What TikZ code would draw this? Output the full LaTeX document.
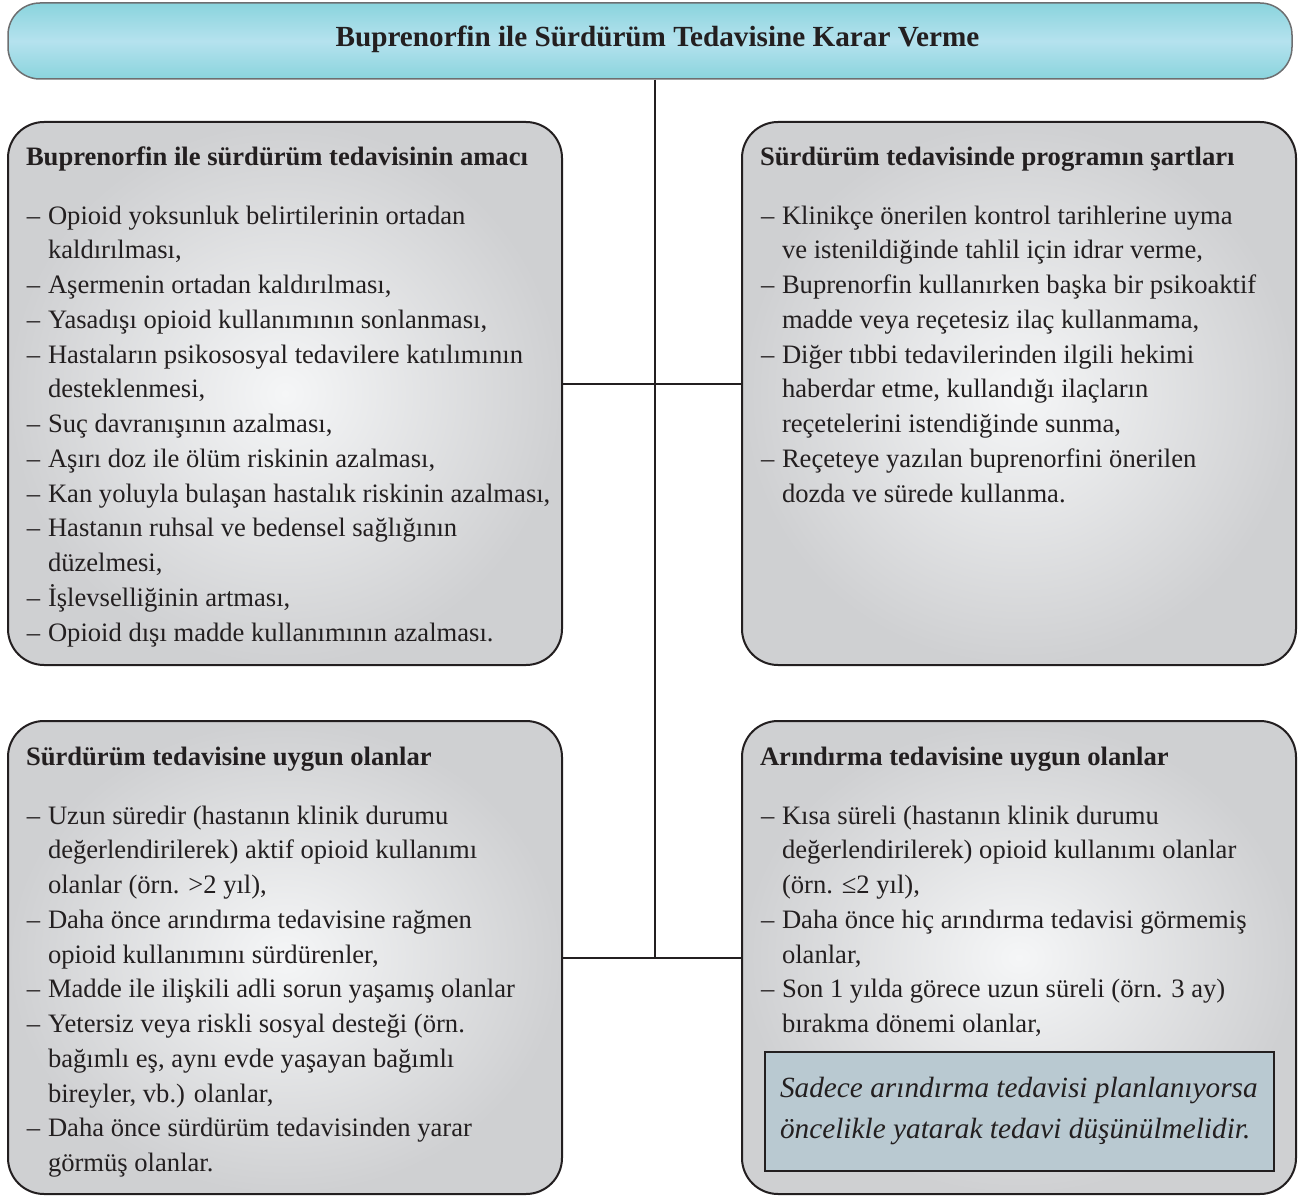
\documentclass[tikz,border=0pt]{standalone}
\usepackage{fontspec}
\setmainfont{Liberation Serif}
\definecolor{ink}{HTML}{231F20}
\definecolor{titleedge}{HTML}{8AD4DD}
\definecolor{titlemid}{HTML}{B5E2EE}
\definecolor{titleline}{HTML}{6D6E70}
\definecolor{panelin}{HTML}{F5F6F7}
\definecolor{panelout}{HTML}{CFD0D2}
\definecolor{notefill}{HTML}{B9C9D1}
\tikzset{
  titlebar/.style={draw=titleline, line width=1.5pt, rounded corners=32pt,
    top color=titleedge, bottom color=titleedge, middle color=titlemid, inner sep=0},
  panel/.style={draw=ink, line width=2pt, rounded corners=36pt,
    inner color=panelin, outer color=panelout, inner sep=0},
  notebox/.style={draw=ink, line width=1.6pt, fill=notefill, inner sep=0},
  conn/.style={draw=ink, line width=2.4pt},
  txt/.style={anchor=base west, inner sep=0, outer sep=0, text=ink,
    font=\fontsize{26.6}{32}\selectfont},
  head/.style={txt, font=\fontsize{26.6}{32}\selectfont\bfseries},
  notetxt/.style={txt, font=\fontsize{29.3}{36}\selectfont\itshape},
}
% bulleted line: name, dash x, first baseline, line index, text
\newcommand\Dline[5]{%
  \node[txt] (#1m) at (#2,{#3+34.75*#4}) {–};
  \node[txt] (#1) at (#2+21,{#3+34.75*#4}) {#5};}
% continuation line: name, dash x, first baseline, line index, text
\newcommand\Cline[5]{%
  \node[txt] (#1) at (#2+21,{#3+34.75*#4}) {#5};}
\begin{document}
\begin{tikzpicture}[x=1pt,y=-1pt]
\useasboundingbox (0,0) rectangle (1302,1196);

% title bar
\node[titlebar, minimum width=1284pt, minimum height=76pt] (title) at (650,41) {};
\node[anchor=base, inner sep=0, text=ink, font=\fontsize{29.2}{34}\selectfont\bfseries]
  (titletext) at (657.5,47) {Buprenorfin ile Sürdürüm Tedavisine Karar Verme};

% panels
\node[panel, minimum width=554pt, minimum height=543pt] (tl) at (285,393.5) {};
\node[panel, minimum width=554pt, minimum height=543pt] (tr) at (1019,393.5) {};
\node[panel, minimum width=554pt, minimum height=473pt] (bl) at (285,957.5) {};
\node[panel, minimum width=554pt, minimum height=473pt] (br) at (1019,957.5) {};

% connectors
\coordinate (jt) at (655,384);
\coordinate (jb) at (655,958);
\draw[conn] (jt |- title.south) -- (jb);
\draw[conn] (tl.east |- jt) -- (tr.west |- jt);
\draw[conn] (bl.east |- jb) -- (br.west |- jb);

% top left
\node[head] (tlh) at (26,166) {Buprenorfin ile sürdürüm tedavisinin amacı};
\Dline{tl0}{27}{224}{0}{Opioid yoksunluk belirtilerinin ortadan}
\Cline{tl1}{27}{224}{1}{kaldırılması,}
\Dline{tl2}{27}{224}{2}{Aşermenin ortadan kaldırılması,}
\Dline{tl3}{27}{224}{3}{Yasadışı opioid kullanımının sonlanması,}
\Dline{tl4}{27}{224}{4}{Hastaların psikososyal tedavilere katılımının}
\Cline{tl5}{27}{224}{5}{desteklenmesi,}
\Dline{tl6}{27}{224}{6}{Suç davranışının azalması,}
\Dline{tl7}{27}{224}{7}{Aşırı doz ile ölüm riskinin azalması,}
\Dline{tl8}{27}{224}{8}{Kan yoluyla bulaşan hastalık riskinin azalması,}
\Dline{tl9}{27}{224}{9}{Hastanın ruhsal ve bedensel sağlığının}
\Cline{tl10}{27}{224}{10}{düzelmesi,}
\Dline{tl11}{27}{224}{11}{İşlevselliğinin artması,}
\Dline{tl12}{27}{224}{12}{Opioid dışı madde kullanımının azalması.}

% top right
\node[head] (trh) at (760,166) {Sürdürüm tedavisinde programın şartları};
\Dline{tr0}{761}{224}{0}{Klinikçe önerilen kontrol tarihlerine uyma}
\Cline{tr1}{761}{224}{1}{ve istenildiğinde tahlil için idrar verme,}
\Dline{tr2}{761}{224}{2}{Buprenorfin kullanırken başka bir psikoaktif}
\Cline{tr3}{761}{224}{3}{madde veya reçetesiz ilaç kullanmama,}
\Dline{tr4}{761}{224}{4}{Diğer tıbbi tedavilerinden ilgili hekimi}
\Cline{tr5}{761}{224}{5}{haberdar etme, kullandığı ilaçların}
\Cline{tr6}{761}{224}{6}{reçetelerini istendiğinde sunma,}
\Dline{tr7}{761}{224}{7}{Reçeteye yazılan buprenorfini önerilen}
\Cline{tr8}{761}{224}{8}{dozda ve sürede kullanma.}

% bottom left
\node[head] (blh) at (26,765) {Sürdürüm tedavisine uygun olanlar};
\Dline{bl0}{27}{824}{0}{Uzun süredir (hastanın klinik durumu}
\Cline{bl1}{27}{824}{1}{değerlendirilerek) aktif opioid kullanımı}
\Cline{bl2}{27}{824}{2}{olanlar (örn. >2 yıl),}
\Dline{bl3}{27}{824}{3}{Daha önce arındırma tedavisine rağmen}
\Cline{bl4}{27}{824}{4}{opioid kullanımını sürdürenler,}
\Dline{bl5}{27}{824}{5}{Madde ile ilişkili adli sorun yaşamış olanlar}
\Dline{bl6}{27}{824}{6}{Yetersiz veya riskli sosyal desteği (örn.}
\Cline{bl7}{27}{824}{7}{bağımlı eş, aynı evde yaşayan bağımlı}
\Cline{bl8}{27}{824}{8}{bireyler, vb.) olanlar,}
\Dline{bl9}{27}{824}{9}{Daha önce sürdürüm tedavisinden yarar}
\Cline{bl10}{27}{824}{10}{görmüş olanlar.}

% bottom right
\node[head] (brh) at (760,765) {Arındırma tedavisine uygun olanlar};
\Dline{br0}{761}{824}{0}{Kısa süreli (hastanın klinik durumu}
\Cline{br1}{761}{824}{1}{değerlendirilerek) opioid kullanımı olanlar}
\Cline{br2}{761}{824}{2}{(örn. ≤2 yıl),}
\Dline{br3}{761}{824}{3}{Daha önce hiç arındırma tedavisi görmemiş}
\Cline{br4}{761}{824}{4}{olanlar,}
\Dline{br5}{761}{824}{5}{Son 1 yılda görece uzun süreli (örn. 3 ay)}
\Cline{br6}{761}{824}{6}{bırakma dönemi olanlar,}

% note inside bottom right panel
\node[notebox, minimum width=509pt, minimum height=119pt] (note) at (1019.5,1111.5) {};
\node[notetxt] (note1) at (780,1097) {Sadece arındırma tedavisi planlanıyorsa};
\node[notetxt] (note2) at (780,1138) {öncelikle yatarak tedavi düşünülmelidir.};
\end{tikzpicture}
\end{document}
